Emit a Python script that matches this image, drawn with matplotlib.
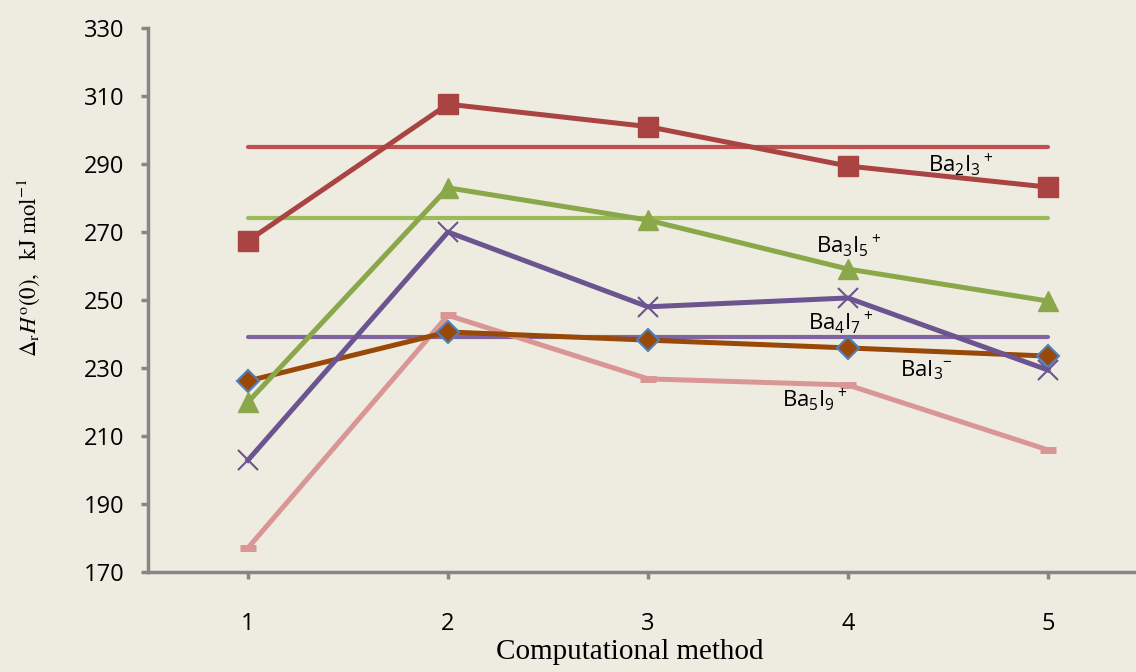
import matplotlib
matplotlib.use("Agg")
import matplotlib.pyplot as plt

methods = [1, 2, 3, 4, 5]
ba2i3 = [267.4, 307.6, 301.0, 289.4, 283.2]
ba3i5 = [220.0, 283.0, 273.5, 259.1, 249.7]
ba4i7 = [202.9, 270.0, 248.0, 250.6, 229.4]
bai3 = [226.2, 240.6, 238.2, 235.9, 233.5]
ba5i9 = [177.1, 245.5, 226.8, 225.0, 205.9]
ref_ba2i3 = 295.0
ref_ba3i5 = 274.1
ref_ba4i7 = 239.1
yticks = [170, 190, 210, 230, 250, 270, 290, 310, 330]

bg = "#EEEBE1"
plt.rcParams['mathtext.fontset'] = 'custom'
plt.rcParams['mathtext.rm'] = 'Open Sans'
plt.rcParams['mathtext.it'] = 'Open Sans:italic'
plt.rcParams['mathtext.bf'] = 'Open Sans:bold'
fig = plt.figure(figsize=(11.36, 6.72), dpi=100, facecolor=bg)
ax = fig.add_axes([148/1136, 100/672, 1000/1136, 544/672])
ax.set_facecolor(bg)

# reference horizontal lines
ax.plot([methods[0], methods[-1]], [ref_ba2i3]*2, color="#C0504D", lw=3.0, solid_capstyle='round', zorder=2)
ax.plot([methods[0], methods[-1]], [ref_ba3i5]*2, color="#9BBB59", lw=3.0, solid_capstyle='round', zorder=2)
ax.plot([methods[0], methods[-1]], [ref_ba4i7]*2, color="#8064A2", lw=3.0, solid_capstyle='round', zorder=2)

ax.plot(methods, ba5i9, color="#D99694", lw=3.6, marker='_', ms=12, mew=5, zorder=3)
ax.plot(methods, bai3, color="#984807", lw=3.6, marker='D', ms=11, mfc="#984807", mec="#4F81BD", mew=1.5, zorder=4)
ax.plot(methods, ba4i7, color="#6B548F", lw=3.6, marker='x', ms=15, mew=1.5, zorder=4)
ax.plot(methods, ba3i5, color="#8AA74A", lw=3.6, marker='^', ms=14, zorder=4)
ax.plot(methods, ba2i3, color="#A94442", lw=3.6, marker='s', ms=14, zorder=4)

tf = dict(fontsize=16, family="Open Sans", ha='center', va='center', zorder=6,
          math_fontfamily='custom')
ax.text(4.565, 289.7, r"Ba$_2$I$_3$$^+$", **tf)
ax.text(4.005, 265.9, r"Ba$_3$I$_5$$^+$", **tf)
ax.text(3.965, 243.5, r"Ba$_4$I$_7$$^+$", **tf)
ax.text(4.39, 229.4, r"BaI$_3$$^{-}$", **tf)
ax.text(3.835, 220.6, r"Ba$_5$I$_9$$^+$", **tf)

ax.set_xlim(0.5, 5.5)
ax.set_ylim(170, 330)
ax.set_xticks(methods)
ax.set_yticks(yticks)
for s in ['top', 'right']:
    ax.spines[s].set_visible(False)
for s in ['left', 'bottom']:
    ax.spines[s].set_color("#868686")
    ax.spines[s].set_linewidth(2.5)
ax.tick_params(axis='both', colors="#868686", width=2.5, length=5, direction='out',
               labelcolor='black', labelsize=17)
ax.tick_params(axis='y', pad=12)
ax.tick_params(axis='x', pad=24)
for lab in ax.get_xticklabels() + ax.get_yticklabels():
    lab.set_family("Open Sans")

ax.set_xlabel("Computational method", fontsize=21, family="Liberation Serif")
ax.xaxis.set_label_coords(0.482, -0.147)
ax.xaxis.label.set_va('center')
ax.set_ylabel(r"$\Delta_\mathrm{r}\mathit{H}^\mathrm{o}\mathrm{(0),\ \ kJ\ mol^{-1}}$", fontsize=16.5,
              math_fontfamily='stix')
ax.yaxis.set_label_coords(-0.12, 0.56)
ax.yaxis.label.set_va('center')

fig.savefig("out.png", dpi=100, facecolor=bg)
